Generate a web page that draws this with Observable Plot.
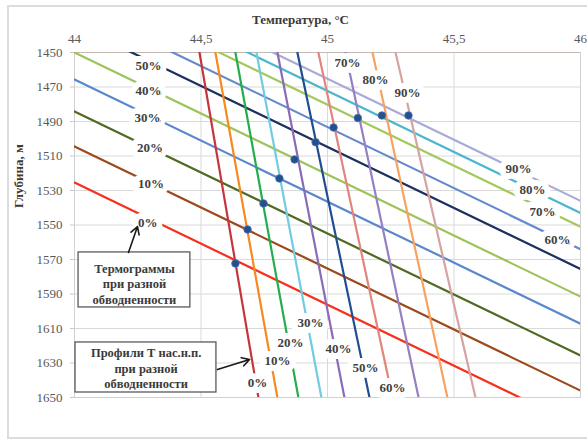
<!DOCTYPE html>
<html>
<head>
<meta charset="utf-8">
<script src="https://cdn.jsdelivr.net/npm/d3@7"></script>
<script src="https://cdn.jsdelivr.net/npm/@observablehq/plot@0.6"></script>
<style>
  html, body { margin: 0; padding: 0; background: #fff; overflow: hidden; }
  #wrap { position: relative; width: 587px; height: 440px; overflow: hidden; }
  #border { position: absolute; left: 7px; top: 5px; width: 600px; height: 430px; border: 2px solid #dcdcdc; box-sizing: content-box; }
  #chart { position: absolute; left: 0; top: 0; }
  #chart svg, #chart svg text { font-family: "Liberation Serif", "Times New Roman", serif !important; }
</style>
</head>
<body>
<div id="wrap"><div id="border"></div><div id="chart"></div></div>
<script>
// Water cut categories
const cuts = ["0%", "10%", "20%", "30%", "40%", "50%", "60%", "70%", "80%", "90%"];

// Thermograms: depth (m) at T = 44 °C and at T = 46 °C
const thermoZ44 = [1525.4, 1504.5, 1484.2, 1465.7, 1450.0, 1434.0, 1422.5, 1409.5, 1401.5, 1394.5];
const thermoZ46 = [1667.0, 1646.0, 1625.7, 1607.2, 1591.5, 1575.5, 1564.0, 1551.0, 1543.0, 1536.0];
const thermoColors = ["#f5301c", "#9a4a1c", "#4f6a22", "#5a87cc", "#9cc45a", "#1c2f5e", "#6489cc", "#a3c95e", "#4db6cf", "#a9abd6"];

// Saturation-temperature profiles: T (°C) at depth 1450 m and at 1650 m
const profileT1450 = [44.494, 44.557, 44.636, 44.719, 44.802, 44.881, 44.964, 45.071, 45.178, 45.269];
const profileT1650 = [44.727, 44.802, 44.885, 44.976, 45.067, 45.166, 45.257, 45.360, 45.474, 45.585];
const profileColors = ["#c6353c", "#f7891f", "#22ae4c", "#72cbe0", "#8a6bb8", "#1f4e91", "#e2857c", "#9580c4", "#f8a261", "#d6a3a1"];

// Intersection points (blue dots)
const dotT = [44.636, 44.684, 44.747, 44.810, 44.870, 44.953, 45.024, 45.120, 45.215, 45.320];
const dotZ = [1572.3, 1552.6, 1537.5, 1523.0, 1512.0, 1502.0, 1493.5, 1488.0, 1486.5, 1486.5];

// Label anchors (data units)
const thermoLabelT = [44.290, 44.302, 44.298, 44.289, 44.292, 44.292, 45.909, 45.850, 45.810, 45.755];
const thermoLabelZ = [1548.6, 1525.9, 1505.1, 1487.7, 1472.4, 1457.5, 1558.4, 1542.2, 1529.4, 1517.2];
const profileLabelT = [44.723, 44.802, 44.854, 44.933, 45.043, 45.150, 45.257, 45.079, 45.190, 45.316];
const profileLabelZ = [1641.3, 1628.6, 1618.1, 1606.5, 1621.6, 1632.6, 1644.2, 1455.8, 1465.6, 1473.2];

// Axis ticks
const xTicks = [44, 44.5, 45, 45.5, 46];
const yTicks = [1450, 1470, 1490, 1510, 1530, 1550, 1570, 1590, 1610, 1630, 1650];

// Texts
const xTitle = "Температура, °C";
const yTitle = "Глубина, м";
const callouts = [
  {text: "Термограммы\nпри разной\nобводненности", T1: 44.016, T2: 44.458, z1: 1565.9, z2: 1597.8, tT: 44.237, tz: 1583.9},
  {text: "Профили Т нас.н.п.\nпри разной\nобводненности", T1: 44.004, T2: 44.561, z1: 1618.1, z2: 1647.1, tT: 44.283, tz: 1632.9}
];
const arrows = [
  {T1: 44.2134, z1: 1565.9, T2: 44.249, z2: 1550.9},
  {T1: 44.565, z1: 1633.8, T2: 44.692, z2: 1628.0}
];

// Build tables
const thermoLines = cuts.flatMap((c, i) => [
  {cut: c, T: 44, z: thermoZ44[i], color: thermoColors[i]},
  {cut: c, T: 46, z: thermoZ46[i], color: thermoColors[i]}
]);
const profileLines = cuts.flatMap((c, i) => [
  {cut: c, T: profileT1450[i], z: 1450, color: profileColors[i]},
  {cut: c, T: profileT1650[i], z: 1650, color: profileColors[i]}
]);
const dots = cuts.map((c, i) => ({cut: c, T: dotT[i], z: dotZ[i]}));
const thermoLabels = cuts.map((c, i) => ({text: c, T: thermoLabelT[i], z: thermoLabelZ[i]}));
const profileLabels = cuts.map((c, i) => ({text: c, T: profileLabelT[i], z: profileLabelZ[i]}));

const fmtX = d => String(d).replace(".", ",");
const serif = "Liberation Serif, Times New Roman, serif";

const chart = Plot.plot({
  width: 587,
  height: 440,
  marginLeft: 74,
  marginRight: 7,
  marginTop: 52,
  marginBottom: 43,
  style: {fontFamily: serif, fontSize: "13px", background: "transparent", color: "#595959", overflow: "visible"},
  color: {type: "identity"},
  x: {domain: [44, 46]},
  y: {domain: [1450, 1650], reverse: true},
  marks: [
    Plot.gridX(xTicks, {stroke: "#d9d9d9", strokeOpacity: 1}),
    Plot.gridY(yTicks, {stroke: "#d9d9d9", strokeOpacity: 1}),
    Plot.frame({stroke: "#d0d0d0"}),
    Plot.ruleY([1450], {stroke: "#c4b9b3", strokeWidth: 1.2}),
    Plot.axisX(xTicks, {anchor: "top", tickSize: 0, tickPadding: 10, tickFormat: fmtX, label: null, color: "#595959", fontSize: 13, fontFamily: serif}),
    Plot.axisY(yTicks, {anchor: "left", tickSize: 4, tickPadding: 8, tickFormat: d => String(d), label: null, color: "#595959", stroke: "#c8c8c8", fontSize: 13, fontFamily: serif}),
    Plot.line(thermoLines, {x: "T", y: "z", z: "cut", stroke: "color", strokeWidth: 2.2, clip: true}),
    Plot.line(profileLines, {x: "T", y: "z", z: "cut", stroke: "color", strokeWidth: 2.2, clip: true}),
    Plot.dot(dots, {x: "T", y: "z", r: 3.8, fill: "#23508e", stroke: "#4d74ad", strokeWidth: 0.8}),
    Plot.text(thermoLabels, {x: "T", y: "z", text: "text", fill: "#404040", stroke: "white", strokeWidth: 12, strokeLinejoin: "round", paintOrder: "stroke", fontWeight: "bold", fontSize: 13, fontFamily: serif}),
    Plot.text(profileLabels, {x: "T", y: "z", text: "text", fill: "#404040", stroke: "white", strokeWidth: 12, strokeLinejoin: "round", paintOrder: "stroke", fontWeight: "bold", fontSize: 13, fontFamily: serif}),
    Plot.rect(callouts, {x1: "T1", x2: "T2", y1: "z1", y2: "z2", fill: "white", stroke: "#5a5a5a", strokeWidth: 1.3}),
    Plot.text(callouts, {x: "tT", y: "tz", text: "text", fill: "#3a3a3a", fontWeight: "bold", fontSize: 12.5, lineHeight: 1.24, fontFamily: serif}),
    Plot.arrow(arrows, {x1: "T1", y1: "z1", x2: "T2", y2: "z2", stroke: "#1a1a1a", strokeWidth: 1.6, headLength: 8}),
    Plot.text([xTitle], {frameAnchor: "top", dx: -27, dy: -38, fill: "#3a3a3a", fontWeight: "bold", fontSize: 13, fontFamily: serif}),
    Plot.text([yTitle], {frameAnchor: "left", rotate: -90, dx: -56, dy: -17, fill: "#3a3a3a", fontWeight: "bold", fontSize: 13, fontFamily: serif})
  ]
});
document.getElementById("chart").appendChild(chart);
</script>
</body>
</html>
